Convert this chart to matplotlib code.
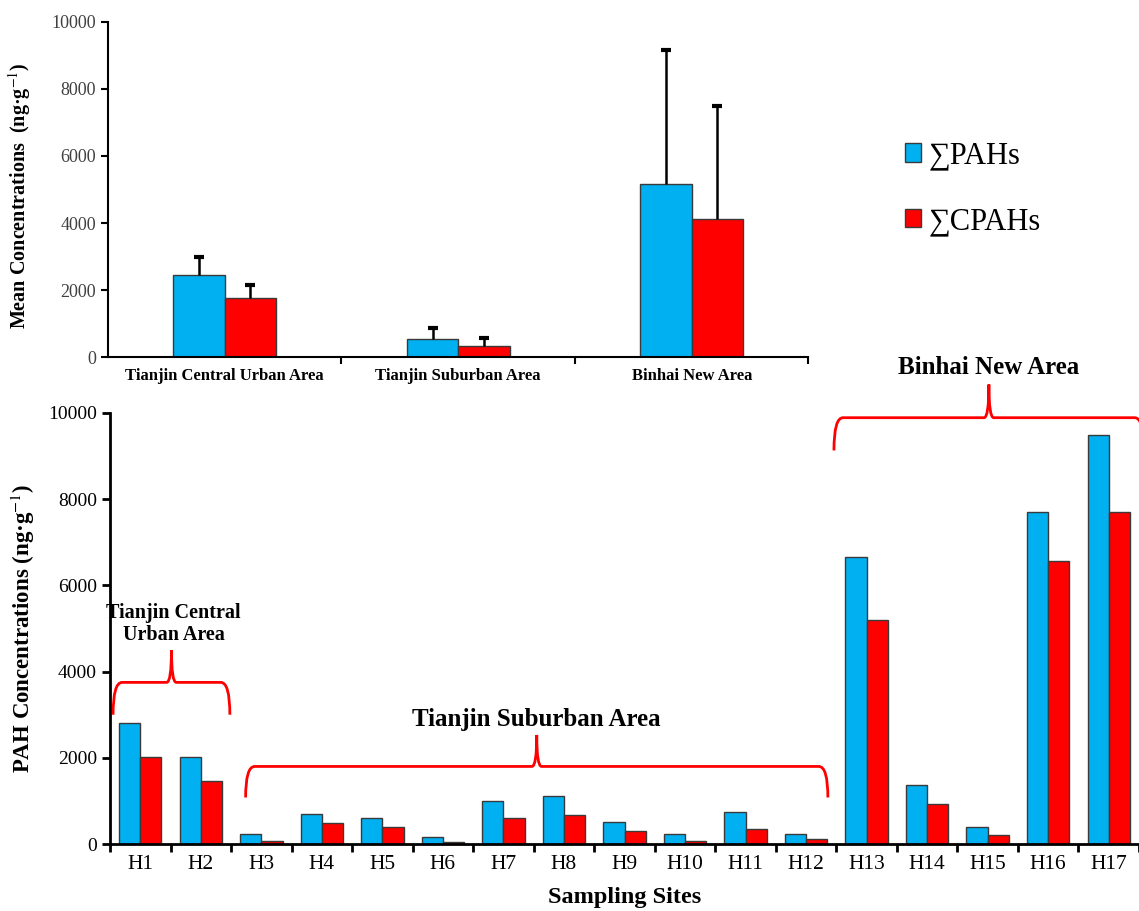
import numpy as np
import matplotlib
matplotlib.use("Agg")
import matplotlib.pyplot as plt
from matplotlib.path import Path
from matplotlib.patches import PathPatch, Patch

plt.rcParams['font.family'] = ['Liberation Serif', 'DejaVu Serif']
plt.rcParams['mathtext.fontset'] = 'stix'

# ---- data ----
areas = ['Tianjin Central Urban Area', 'Tianjin Suburban Area', 'Binhai New Area']
mean_pahs = [2440, 530, 5150]
mean_cpahs = [1760, 340, 4110]
sd_pahs = [540, 340, 4010]
sd_cpahs = [390, 220, 3380]

sites = ['H%d' % i for i in range(1, 18)]
pahs = [2800, 2030, 230, 690, 600, 170, 990, 1120, 510, 230, 750, 230,
        6650, 1370, 400, 7700, 9500]
cpahs = [2030, 1470, 70, 480, 390, 40, 600, 670, 300, 70, 360, 110,
         5200, 940, 200, 6560, 7700]

blue = '#00B0F0'
red = '#FF0000'
edge = '#3a3a3a'

fig = plt.figure(figsize=(11.39, 9.11), dpi=100)

# ---- top panel: mean concentrations ----
ax1 = fig.add_axes([0.0948, 0.608, 0.615, 0.368])
x1 = np.arange(len(areas))
w1 = 0.22
ax1.bar(x1 - w1 / 2, mean_pahs, w1, color=blue, edgecolor=edge, linewidth=1)
ax1.bar(x1 + w1 / 2, mean_cpahs, w1, color=red, edgecolor=edge, linewidth=1)
# upper-only error bars
for xs, m, sd in [(x1 - w1 / 2, mean_pahs, sd_pahs), (x1 + w1 / 2, mean_cpahs, sd_cpahs)]:
    tops = np.array(m) + np.array(sd)
    ax1.vlines(xs, m, tops, color='black', linewidth=1.8)
    ax1.plot(xs, tops, linestyle='none', marker='_', markersize=7, markeredgewidth=3, color='black')
ax1.set_xlim(-0.5, 2.5)
ax1.set_ylim(0, 10000)
ax1.set_yticks(np.arange(0, 10001, 2000))
ax1.set_xticks(x1)
ax1.set_xticklabels(areas, fontsize=12, fontweight='bold')
ax1.set_xticks([0.5, 1.5, 2.5], minor=True)
ax1.tick_params(axis='x', which='major', length=0, pad=8)
ax1.tick_params(axis='x', which='minor', length=5, width=1.5, direction='out')
ax1.tick_params(axis='y', length=5, width=1.5, direction='out', labelsize=13, labelcolor='#404040')
for s in ['top', 'right']:
    ax1.spines[s].set_visible(False)
for s in ['left', 'bottom']:
    ax1.spines[s].set_linewidth(1.5)
ax1.set_ylabel(r'Mean Concentrations  (ng·g$^{-1}$)', fontsize=14.5, fontweight='bold')
ax1.yaxis.set_label_coords(-0.107, 0.48)

handles = [Patch(facecolor=blue, edgecolor=edge), Patch(facecolor=red, edgecolor=edge)]
fig.legend(handles, ['∑PAHs', '∑CPAHs'], loc='upper left', bbox_to_anchor=(0.77, 0.875),
           frameon=False, fontsize=22, handlelength=0.55, handleheight=0.55,
           handletextpad=0.25, labelspacing=1.2)

# ---- bottom panel: sampling sites ----
ax2 = fig.add_axes([0.0966, 0.0735, 0.9034, 0.4732])
x2 = np.arange(len(sites))
w2 = 0.35
ax2.bar(x2 - w2 / 2, pahs, w2, color=blue, edgecolor=edge, linewidth=1)
ax2.bar(x2 + w2 / 2, cpahs, w2, color=red, edgecolor=edge, linewidth=1)
ax2.set_xlim(-0.5, 16.5)
ax2.set_ylim(0, 10000)
ax2.set_yticks(np.arange(0, 10001, 2000))
ax2.set_xticks(x2)
ax2.set_xticklabels(sites, fontsize=15.5)
ax2.set_xticks(np.arange(-0.5, 16.6, 1), minor=True)
ax2.tick_params(axis='x', which='major', length=0, pad=8)
ax2.tick_params(axis='x', which='minor', length=6, width=2, direction='out')
ax2.tick_params(axis='y', length=6, width=2, direction='out', labelsize=14)
for s in ['top', 'right']:
    ax2.spines[s].set_visible(False)
for s in ['left', 'bottom']:
    ax2.spines[s].set_linewidth(2)
ax2.set_ylabel(r'PAH Concentrations (ng·g$^{-1}$)', fontsize=16.5, fontweight='bold', labelpad=8)
ax2.set_xlabel('Sampling Sites', fontsize=17.5, fontweight='bold')
ax2.xaxis.set_label_coords(0.5, -0.1)


def brace(ax, x0, x1, y_tip, y_bar, y_peak, dx=0.15, dxm=0.08):
    xm = (x0 + x1) / 2
    verts = [(x0, y_tip), (x0, y_bar), (x0 + dx, y_bar),
             (xm - dxm, y_bar),
             (xm, y_bar), (xm, y_peak),
             (xm, y_bar), (xm + dxm, y_bar),
             (x1 - dx, y_bar),
             (x1, y_bar), (x1, y_tip)]
    codes = [Path.MOVETO, Path.CURVE3, Path.CURVE3,
             Path.LINETO,
             Path.CURVE3, Path.CURVE3,
             Path.CURVE3, Path.CURVE3,
             Path.LINETO,
             Path.CURVE3, Path.CURVE3]
    ax.add_patch(PathPatch(Path(verts, codes), facecolor='none', edgecolor=red,
                           linewidth=2, clip_on=False))


brace(ax2, -0.45, 1.48, 3000, 3750, 4500)
ax2.text(0.55, 5100, 'Tianjin Central\nUrban Area', ha='center', va='center',
         fontsize=14.5, fontweight='bold', linespacing=1.1)
brace(ax2, 1.74, 11.36, 1080, 1800, 2530)
ax2.text(6.55, 2900, 'Tianjin Suburban Area', ha='center', va='center',
         fontsize=18, fontweight='bold')
brace(ax2, 11.46, 16.58, 9130, 9890, 10660)
ax2.text(14.02, 11050, 'Binhai New Area', ha='center', va='center',
         fontsize=18, fontweight='bold')

fig.savefig('out.png', dpi=100)
